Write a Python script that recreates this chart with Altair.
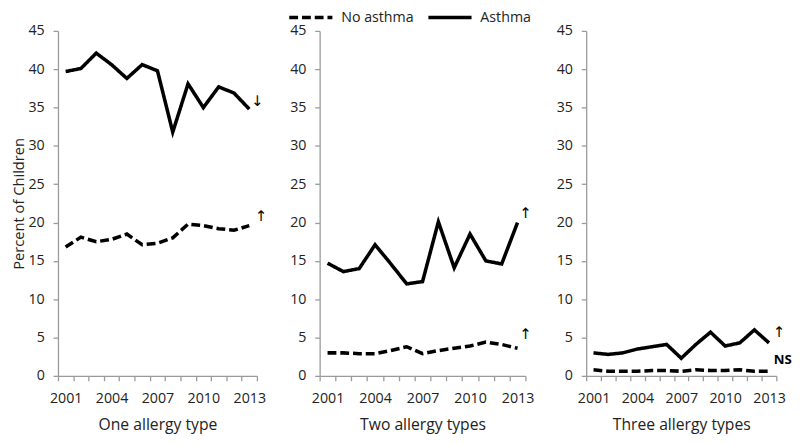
import altair as alt
import pandas as pd

years = list(range(2001, 2014))

one_asthma = [39.7, 40.1, 42.1, 40.6, 38.8, 40.6, 39.8, 31.8, 38.1, 35.0, 37.7, 36.9, 34.8]
one_no_asthma = [16.8, 18.1, 17.5, 17.8, 18.5, 17.1, 17.3, 18.0, 19.8, 19.6, 19.2, 19.0, 19.6]

two_asthma = [14.7, 13.6, 14.0, 17.1, 14.6, 12.0, 12.3, 20.1, 14.1, 18.5, 15.0, 14.6, 20.0]
two_no_asthma = [3.0, 3.0, 2.9, 2.9, 3.3, 3.8, 2.9, 3.3, 3.6, 3.9, 4.4, 4.1, 3.6]

three_asthma = [3.0, 2.8, 3.0, 3.5, 3.8, 4.1, 2.3, 4.1, 5.7, 3.9, 4.3, 6.0, 4.3]
three_no_asthma = [0.8, 0.6, 0.6, 0.6, 0.7, 0.7, 0.6, 0.8, 0.7, 0.7, 0.8, 0.6, 0.6]

panel_titles = ["One allergy type", "Two allergy types", "Three allergy types"]
series_names = ["No asthma", "Asthma"]
y_ticks = [0, 5, 10, 15, 20, 25, 30, 35, 40, 45]
x_tick_bounds = [y - 0.5 for y in range(2001, 2015)]

# annotations: (label, year, value)
ann_one = [("↓", 2013, 35.9), ("↑", 2013, 20.9)]
ann_two = [("↑", 2013, 21.2), ("↑", 2013, 5.5)]
ann_three = [("↑", 2013, 5.7), ("NS", 2013, 2.0)]

FONT = "Open Sans"
TXT = "#222222"
AX = "#9a9a9a"

def panel(title, asthma, no_asthma, anns, width, show_ytitle, ann_dx):
    df = pd.DataFrame({
        "Year": years * 2,
        "Percent": no_asthma + asthma,
        "Series": [series_names[0]] * len(years) + [series_names[1]] * len(years),
    })
    half_band = width / 13 / 2
    x_axis = alt.Axis(
        values=x_tick_bounds,
        tickCount=30,
        labelExpr="(abs((datum.value - 2000.5) % 3) < 0.01 && datum.value < 2013) ? toString(datum.value + 0.5) : ''",
        labelOffset=half_band,
        labelOverlap=False,
        labelFlush=False,
        grid=False,
        tickSize=5,
        labelPadding=11,
        title=title,
        titlePadding=12,
        titleFontSize=16,
        titleFontWeight="normal",
    )
    y_axis = alt.Axis(
        values=y_ticks,
        tickCount=20,
        labelOverlap=False,
        labelFlush=False,
        grid=False,
        tickSize=5,
        labelPadding=9,
        title="Percent of Children" if show_ytitle else None,
        titlePadding=2,
        titleFontSize=15,
        titleFontWeight="normal",
    )
    lines = alt.Chart(df).mark_line(strokeWidth=3.6, color="black", strokeCap="butt").encode(
        x=alt.X("Year:Q", scale=alt.Scale(domain=[2000.5, 2013.5], nice=False, zero=False), axis=x_axis),
        y=alt.Y("Percent:Q", scale=alt.Scale(domain=[0, 45], nice=False), axis=y_axis),
        strokeDash=alt.StrokeDash(
            "Series:N",
            scale=alt.Scale(domain=series_names, range=[[9, 4], [1, 0]]),
            legend=alt.Legend(
                title=None,
                orient="none",
                direction="horizontal",
                legendX=234,
                legendY=-38,
                symbolType="stroke",
                symbolSize=1936,
                symbolStrokeWidth=3.6,
                symbolStrokeColor="black",
                labelFontSize=14.5,
                labelFont=FONT,
                labelColor=TXT,
                labelOffset=7,
                columnPadding=7,
            ),
        ),
        detail="Series:N",
    )
    layers = [lines]
    for (label, yr, val), dx in zip(anns, ann_dx):
        adf = pd.DataFrame({"Year": [yr], "Percent": [val], "Label": [label]})
        bold = label == "NS"
        layers.append(
            alt.Chart(adf).mark_text(
                dx=dx, fontSize=13.5 if bold else 15, fontWeight="bold" if bold else "normal",
                font=FONT if bold else "DejaVu Sans", color="black",
            ).encode(x="Year:Q", y="Percent:Q", text="Label:N")
        )
    return alt.layer(*layers).properties(width=width, height=352)

c1 = panel(panel_titles[0], one_asthma, one_no_asthma, ann_one, 203, True, [8, 12])
c2 = panel(panel_titles[1], two_asthma, two_no_asthma, ann_two, 210, False, [8, 8])
c3 = panel(panel_titles[2], three_asthma, three_no_asthma, ann_three, 194, False, [10, 14])

chart = alt.hconcat(c1, c2, c3, spacing=22).properties(
    padding={"left": 3, "top": -19, "right": 0, "bottom": 0}
).configure_view(stroke=None).configure_axis(
    domainColor=AX, tickColor=AX, domainWidth=1.3, tickWidth=1.3,
    labelFont=FONT, titleFont=FONT, labelFontSize=14.5,
    labelColor=TXT, titleColor=TXT,
)

chart.save("out.html", embed_options={"renderer": "svg", "actions": False})
